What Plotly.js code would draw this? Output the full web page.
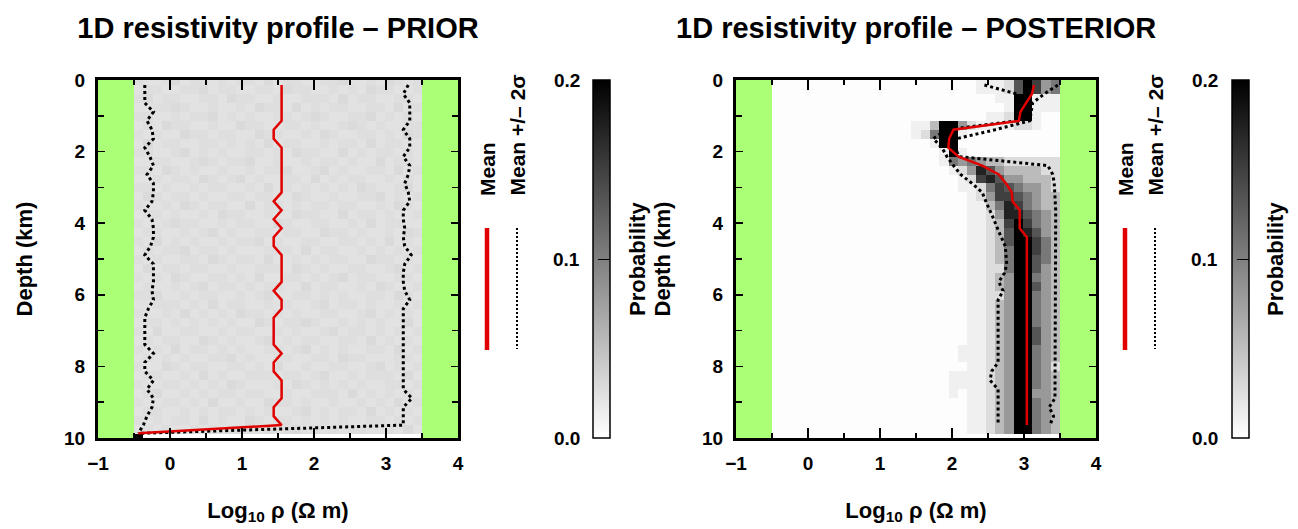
<!DOCTYPE html>
<html>
<head>
<meta charset="utf-8">
<script src="https://cdn.plot.ly/plotly-3.0.1.min.js"></script>
<style>html,body{margin:0;padding:0;background:#fff;}#chart{width:1298px;height:529px;}</style>
</head>
<body>
<div id="chart"></div>
<script>
// ---------------- DATA ----------------
// depth nodes of the profiles (km)
const DEPTH_NODES = [0.14,0.39,0.64,0.89,1.14,1.39,1.64,1.89,2.14,2.39,2.64,2.89,3.14,3.39,3.64,3.89,4.14,4.39,4.64,4.89,
  5.14,5.39,5.64,5.89,6.14,6.39,6.64,6.89,7.14,7.39,7.64,7.89,8.14,8.39,8.64,8.89,9.14,9.39,9.64];
const PRIOR_DEPTH = [0.14,0.39,0.64,0.89,1.14,1.39,1.64,1.89,2.14,2.39,2.64,2.89,3.14,3.39,3.64,3.89,4.14,4.39,4.64,4.89,
  5.14,5.39,5.64,5.89,6.14,6.39,6.64,6.89,7.14,7.39,7.64,7.89,8.14,8.39,8.64,8.89,9.14,9.39,9.64,9.87];

// PRIOR profiles (log10 ohm m)
const PRIOR_MEAN = [1.55,1.55,1.55,1.55,1.55,1.44,1.44,1.55,1.55,1.55,1.55,1.55,1.55,1.44,1.55,1.44,1.55,1.44,1.44,1.55,
  1.55,1.55,1.55,1.44,1.55,1.55,1.44,1.44,1.44,1.44,1.55,1.44,1.44,1.55,1.55,1.55,1.44,1.44,1.55,-0.44];
const PRIOR_LOW = [-0.35,-0.35,-0.35,-0.23,-0.32,-0.25,-0.23,-0.35,-0.28,-0.23,-0.32,-0.23,-0.23,-0.25,-0.35,-0.25,-0.23,-0.23,-0.27,-0.35,
  -0.23,-0.23,-0.23,-0.25,-0.23,-0.30,-0.35,-0.35,-0.35,-0.35,-0.23,-0.35,-0.35,-0.23,-0.32,-0.23,-0.25,-0.32,-0.37,-0.44];
const PRIOR_HIGH = [3.31,3.24,3.33,3.33,3.33,3.24,3.33,3.33,3.24,3.33,3.31,3.26,3.31,3.33,3.24,3.24,3.26,3.24,3.26,3.35,
  3.26,3.24,3.24,3.26,3.33,3.24,3.24,3.24,3.24,3.24,3.24,3.24,3.24,3.24,3.24,3.36,3.24,3.24,3.24,-0.44];

// POSTERIOR profiles
const POST_MEAN = [3.14,3.11,3.03,2.95,2.93,2.02,1.96,1.95,2.09,2.42,2.65,2.75,2.83,2.84,2.94,2.94,2.94,3.04,3.04,3.04,
  3.04,3.04,3.04,3.04,3.04,3.04,3.04,3.04,3.04,3.04,3.04,3.04,3.04,3.04,3.04,3.04,3.04,3.04,3.04];
const POST_LOW = [2.45,2.90,2.90,2.90,2.90,1.92,1.74,1.86,1.93,2.02,2.12,2.28,2.42,2.47,2.53,2.58,2.63,2.68,2.74,2.75,
  2.76,2.73,2.65,2.71,2.64,2.64,2.64,2.64,2.64,2.64,2.64,2.64,2.55,2.53,2.64,2.64,2.64,2.64,2.64];
const POST_HIGH = [3.47,3.28,3.12,3.10,3.08,2.60,2.06,2.04,2.10,3.33,3.40,3.42,3.43,3.44,3.44,3.44,3.44,3.44,3.44,3.44,
  3.44,3.44,3.44,3.44,3.44,3.44,3.44,3.44,3.44,3.44,3.44,3.44,3.44,3.44,3.44,3.43,3.35,3.41,3.36];

// probability grids: one string per depth row, one character per resistivity bin (31 bins from -0.5 to 3.5)
const PRIOR_LEVELS = {'.':0, '1':0.0225, '2':0.026, '3':0.029, '9':0.25};
const PRIOR_ROWS = [
  '2112312212'+'1221312211'+'22311213212',
  '1221122312'+'2112213221'+'12121322112',
  '2312211221'+'3221121122'+'21312211221',
  '1122321121'+'1213221312'+'12211221312',
  '2211212231'+'2121122123'+'21122312121',
  '1213221121'+'1322112212'+'11232121122',
  '2121132212'+'2113221121'+'32112212132',
  '1312211221'+'2121312211'+'21221312211',
  '2211231212'+'1122121322'+'11312122121',
  '1122112321'+'2231121121'+'22121131221',
  '2213212112'+'1121223112'+'31211221312',
  '1121221321'+'2312112213'+'12122112121',
  '2212112122'+'1121312121'+'21213211231',
  '1321221211'+'2212211321'+'12112231212',
  '2112132122'+'1131221212'+'21221121321',
  '1221211213'+'2211211322'+'11312212112',
  '2112322112'+'1221132112'+'21121312211',
  '1221121231'+'2112212211'+'32212112132',
  '2131212112'+'1223121122'+'11221213121',
  '1212231221'+'2111222131'+'22112121212',
  '2121122132'+'1221311212'+'12211322121',
  '1312212211'+'2112221321'+'21122112312',
  '2121321122'+'1213112212'+'12312211221',
  '1211212312'+'2121221131'+'22112132112',
  '2231121221'+'1212311221'+'21211221321',
  '1122212131'+'2211212112'+'31221211212',
  '2112131212'+'1322121211'+'22112312121',
  '1221212121'+'2113212232'+'11212121131',
  '2131122112'+'1221121211'+'23122121212',
  '1212211321'+'2112312122'+'11221312121',
  '2121312212'+'1211221231'+'21211221312',
  '1212121122'+'3121122112'+'21322111221',
  '2113212211'+'2212131121'+'12211231212',
  '1221121312'+'1122212212'+'31121222131',
  '2112212121'+'3211121321'+'21212112212',
  '1231121212'+'2122112112'+'22131212121',
  '2112212131'+'1211322121'+'12112121312',
  '1221121212'+'2121211231'+'21221312121',
  '2121221312'+'1132122121'+'21211221212',
  '1212112121'+'2211212312'+'12122112131',
  '9.........'+'..........'+'...........'
];
const POST_LEVELS = {'.':0, '0':0.0016, '1':0.012, '2':0.027, '3':0.053, '4':0.08, '5':0.106, '6':0.133, '7':0.15, '8':0.173, '9':0.25};
const POST_ROWS = [
  '0000000000'+'0000000000'+'00111269745',
  '0000000000'+'0000000000'+'00111269745',
  '0000000000'+'0000000000'+'00001199111',
  '0000000000'+'0000000000'+'00000199111',
  '0000000000'+'0000000000'+'00011299100',
  '0000000000'+'0000011399'+'42111122100',
  '0000000000'+'0000012599'+'10000000000',
  '0000000000'+'0000000199'+'00000000000',
  '0000000000'+'0000000019'+'10000000000',
  '0000000000'+'0000000015'+'45433222222',
  '0000000000'+'0000000001'+'24864333322',
  '0000000000'+'0000000000'+'12786443332',
  '0000000000'+'0000000000'+'11257654432',
  '0000000000'+'0000000000'+'01247765433',
  '0000000000'+'0000000000'+'01135875433',
  '0000000000'+'0000000000'+'01124886543',
  '0000000000'+'0000000000'+'01123797543',
  '0000000000'+'0000000000'+'01123698643',
  '0000000000'+'0000000000'+'01123699753',
  '0000000000'+'0000000000'+'01123599753',
  '0000000000'+'0000000000'+'01123599653',
  '0000000000'+'0000000000'+'01122599643',
  '0000000000'+'0000000000'+'01123499543',
  '0000000000'+'0000000000'+'01123499643',
  '0000000000'+'0000000000'+'01122499543',
  '0000000000'+'0000000000'+'01123499543',
  '0000000000'+'0000000000'+'01123499543',
  '0000000000'+'0000000000'+'01123499543',
  '0000000000'+'0000000000'+'01123499643',
  '0000000000'+'0000000000'+'01123499643',
  '0000000000'+'0000000000'+'11123499543',
  '0000000000'+'0000000000'+'11123499543',
  '0000000000'+'0000000000'+'01123499542',
  '0000000000'+'0000000001'+'11123499543',
  '0000000000'+'0000000001'+'11123499543',
  '0000000000'+'0000000001'+'01123499443',
  '0000000000'+'0000000000'+'01123499543',
  '0000000000'+'0000000000'+'01123499543',
  '0000000000'+'0000000000'+'01123499543',
  '0000000000'+'0000000000'+'01123499543',
  '..........'+'..........'+'...........'
];
const CB_TICKS = ['0.0', '0.1', '0.2'];
const CB_TICKVALS = [0, 0.1, 0.2];

// ---------------- BUILD ----------------
function decode(rows, levels) {
  return rows.map(r => r.split('').map(c => levels[c]));
}
const W = 1298, H = 529;
const fx = p => p / W, fy = p => 1 - p / H;
const FONT = 'Liberation Sans, Arial, Helvetica, sans-serif';

function heat(z, xa, ya, cbx) {
  return {
    type: 'heatmap', z: z, xaxis: xa, yaxis: ya,
    x0: -0.5 + 4 / 62, dx: 4 / 31, y0: 0.015, dy: 0.25,
    zmin: 0, zmax: 0.2, zsmooth: false,
    colorscale: [[0, '#ffffff'], [1, '#000000']],
    hoverinfo: 'skip',
    colorbar: {
      x: cbx, xanchor: 'left', xpad: 0, ypad: 0, thickness: 17,
      len: 358, lenmode: 'pixels', y: fy(259), yanchor: 'middle',
      outlinecolor: '#000', outlinewidth: 1.5,
      tickmode: 'array', tickvals: [0.1], ticks: 'inside', ticklen: 12, tickcolor: '#000', tickwidth: 1,
      showticklabels: false
    }
  };
}
function line(x, y, xa, ya, color, dash, width) {
  return { type: 'scatter', mode: 'lines', x: x, y: y, xaxis: xa, yaxis: ya,
    line: { color: color, width: width, dash: dash }, hoverinfo: 'skip', showlegend: false };
}

const data = [
  heat(decode(PRIOR_ROWS, PRIOR_LEVELS), 'x', 'y', fx(593)),
  line(PRIOR_LOW, PRIOR_DEPTH, 'x', 'y', '#000', 'dot', 3),
  line(PRIOR_HIGH, PRIOR_DEPTH, 'x', 'y', '#000', 'dot', 3),
  line(PRIOR_MEAN, PRIOR_DEPTH, 'x', 'y', '#e00000', 'solid', 2.5),
  heat(decode(POST_ROWS, POST_LEVELS), 'x2', 'y2', fx(1232)),
  line(POST_LOW, DEPTH_NODES, 'x2', 'y2', '#000', 'dot', 3),
  line(POST_HIGH, DEPTH_NODES, 'x2', 'y2', '#000', 'dot', 3),
  line(POST_MEAN, DEPTH_NODES, 'x2', 'y2', '#e00000', 'solid', 2.5)
];

function xax(l, r) {
  return { domain: [fx(l), fx(r)], range: [-1, 4], tick0: -1, dtick: 1, ticks: 'inside', ticklen: 10,
    tickwidth: 1.5, tickcolor: '#000', showline: true, linewidth: 3, linecolor: '#000', mirror: 'ticks',
    showgrid: false, zeroline: false, tickfont: { size: 19 }, ticklabelstandoff: 6, automargin: false,
    title: { text: 'Log<sub>10</sub> ρ (Ω m)', font: { size: 22 }, standoff: 30 },
    minor: { dtick: 0.5, ticks: 'inside', ticklen: 5, tickwidth: 1.5, tickcolor: '#000', showgrid: false },
    fixedrange: true };
}
function yax() {
  return { domain: [fy(438), fy(80)], range: [10, 0], tick0: 0, dtick: 2, ticks: 'inside', ticklen: 7,
    tickwidth: 1.5, tickcolor: '#000', showline: true, linewidth: 3, linecolor: '#000', mirror: 'ticks',
    showgrid: false, zeroline: false, tickfont: { size: 19 }, ticklabelstandoff: 6, automargin: false,
    title: { text: 'Depth (km)', font: { size: 22 }, standoff: 26 },
    minor: { dtick: 1, ticks: 'inside', ticklen: 6, tickwidth: 1.5, tickcolor: '#000', showgrid: false },
    fixedrange: true };
}

const shapes = [];
[['x', 'y'], ['x2', 'y2']].forEach(([xa, ya]) => {
  shapes.push({ type: 'rect', xref: xa, yref: ya, x0: -1, x1: -0.5, y0: 0, y1: 10, fillcolor: '#aaff77', line: { width: 0 }, layer: 'below' });
  shapes.push({ type: 'rect', xref: xa, yref: ya, x0: 3.5, x1: 4, y0: 0, y1: 10, fillcolor: '#aaff77', line: { width: 0 }, layer: 'below' });
});
const annotations = [];
function ann(text, x, y, opts) {
  annotations.push(Object.assign({ text: text, xref: 'paper', yref: 'paper', x: fx(x), y: fy(y), showarrow: false,
    xanchor: 'center', yanchor: 'middle', font: { size: 22, family: FONT, color: '#000', weight: 'bold' } }, opts || {}));
}
[0, 638].forEach(off => {
  // legend
  shapes.push({ type: 'line', xref: 'paper', yref: 'paper', x0: fx(487 + off), x1: fx(487 + off), y0: fy(228), y1: fy(350), line: { color: '#e00000', width: 4.5 } });
  shapes.push({ type: 'line', xref: 'paper', yref: 'paper', x0: fx(517 + off), x1: fx(517 + off), y0: fy(228), y1: fy(349), line: { color: '#000', width: 2, dash: '2px,2px' } });
  ann('Mean', 487 + off, 198, { textangle: -90, yanchor: 'bottom', font: { size: 21, family: FONT, color: '#000', weight: 'bold' } });
  ann('Mean +/– 2σ', 517 + off, 198, { textangle: -90, yanchor: 'bottom', font: { size: 21, family: FONT, color: '#000', weight: 'bold' } });
  // colorbar labels and title
  CB_TICKS.forEach((t, j) => {
    ann(t, 582 + off, 438 - CB_TICKVALS[j] / 0.2 * 358, { xanchor: 'right', font: { size: 19, family: FONT, color: '#000', weight: 'bold' } });
  });
  ann('Probability', 637 + off, 259, { textangle: -90 });
});
ann('1D resistivity profile – POSTERIOR', 916, 28, { font: { size: 29, family: FONT, color: '#000', weight: 'bold' } });

const layout = {
  width: W, height: H, margin: { l: 0, r: 0, t: 0, b: 0 },
  paper_bgcolor: '#fff', plot_bgcolor: '#fff', showlegend: false,
  font: { family: FONT, size: 19, color: '#000', weight: 'bold' },
  title: { text: '1D resistivity profile – PRIOR', x: fx(278), xanchor: 'center', xref: 'paper',
           y: fy(28), yanchor: 'middle', yref: 'container', font: { size: 29 } },
  xaxis: Object.assign(xax(98, 458), { anchor: 'y' }),
  yaxis: Object.assign(yax(), { anchor: 'x' }),
  xaxis2: Object.assign(xax(736, 1096), { anchor: 'y2' }),
  yaxis2: Object.assign(yax(), { anchor: 'x2' }),
  shapes: shapes, annotations: annotations
};
Plotly.newPlot('chart', data, layout, { staticPlot: true, displayModeBar: false });
</script>
</body>
</html>
